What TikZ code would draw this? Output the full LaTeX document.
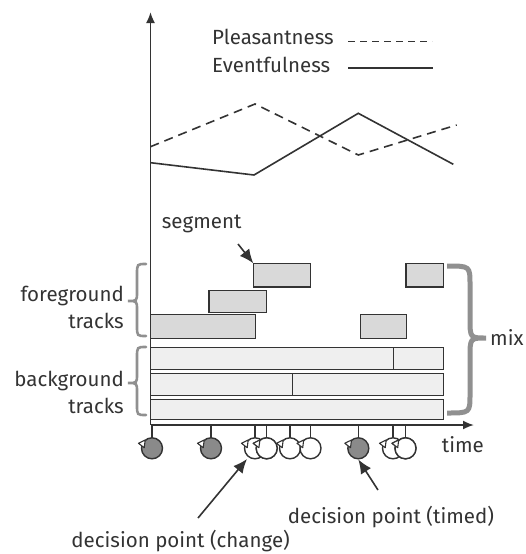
\documentclass[tikz,border=0pt]{standalone}
\usepackage{fontspec}
\setmainfont{Fira Sans}
\usetikzlibrary{arrows.meta}
\definecolor{ink}{HTML}{333333}
\definecolor{fgfill}{HTML}{D9D9D9}
\definecolor{bgfill}{HTML}{EFEFEF}
\definecolor{dpfill}{HTML}{8A8A8A}
\definecolor{bracegray}{HTML}{909090}
\tikzset{
  lbl/.style={inner sep=0pt, font=\fontsize{20.5}{24}\selectfont, text=ink},
  axisline/.style={draw=ink, line width=1.8pt, -{Latex[length=11pt,width=9pt]}},
  segbox/.style={draw=ink, line width=1.3pt, fill=fgfill, inner sep=0pt, outer sep=0pt, anchor=north west},
  trackbox/.style={draw=ink, line width=1.3pt, fill=bgfill, inner sep=0pt, outer sep=0pt, anchor=north west},
  curve/.style={draw=ink, line width=1.6pt},
  dashedcurve/.style={curve, dash pattern=on 9pt off 6pt},
  dpfilled/.style={circle, draw=ink, line width=1.4pt, fill=dpfill, minimum size=21pt, inner sep=0pt},
  dpopen/.style={circle, draw=ink, line width=1.4pt, fill=white, minimum size=21pt, inner sep=0pt},
  tri/.style={draw=ink, line width=1.1pt, fill=white, line join=round},
  tickline/.style={draw=ink, line width=1.3pt},
  pointer/.style={draw=ink, line width=1.6pt, -{Latex[length=14pt,width=12pt]}},
  lbrace/.style={draw=bracegray, line width=2.6pt, line cap=round},
  rbrace/.style={draw=bracegray, line width=5pt},
}
\newcommand{\dptri}[1]{\draw[tri] ([shift={(-13.5,-5)}]#1.center) -- ([shift={(-6.8,-8.3)}]#1.center) -- ([shift={(-7.8,-0.6)}]#1.center) -- cycle;}
\begin{document}
\begin{tikzpicture}[x=1pt,y=-1pt]
\useasboundingbox (0,0) rectangle (525,554);

% axes
\coordinate (O) at (150.5,425);
\coordinate (Ytop) at (150.5,12);
\coordinate (Xend) at (474,425);
\draw[axisline] (O) -- (Ytop);
\draw[axisline] (O) -- (Xend);

% legend
\node[lbl, anchor=base west] (pl) at (212,44) {Pleasantness};
\node[lbl, anchor=base west] (ev) at (212,72) {Eventfulness};
\coordinate (pl1) at (348,41.5); \coordinate (pl2) at (432,41.5);
\coordinate (ev1) at (348,68); \coordinate (ev2) at (433,68);
\draw[dashedcurve, dash pattern=on 7pt off 5pt] (pl1) -- (pl2);
\draw[curve] (ev1) -- (ev2);

% curves
\coordinate (p0) at (150.5,146.7); \coordinate (p1) at (255,104);
\coordinate (p2) at (358.3,155); \coordinate (p3) at (456.7,125);
\coordinate (e0) at (150.5,162.7); \coordinate (e1) at (254,175);
\coordinate (e2) at (358.3,113.3); \coordinate (e3) at (453.3,164.3);
\draw[dashedcurve] (p0) -- (p1) -- (p2) -- (p3);
\draw[curve, line join=miter] (e0) -- (e1) -- (e2) -- (e3);

% foreground segments
\node[segbox, minimum width=57.4pt, minimum height=23.7pt] (s1) at (253.3,263.3) {};
\node[segbox, minimum width=37.3pt, minimum height=23.7pt] (s2) at (406,263.3) {};
\node[segbox, minimum width=57.7pt, minimum height=22pt] (s3) at (209,290.7) {};
\node[segbox, minimum width=104.6pt, minimum height=24pt] (s4) at (150.7,314.7) {};
\node[segbox, minimum width=46.4pt, minimum height=24pt] (s5) at (360.3,314.7) {};

% background tracks
\node[trackbox, minimum width=292.6pt, minimum height=22pt] (t1) at (150.7,347.7) {};
\node[trackbox, minimum width=292.6pt, minimum height=21.6pt] (t2) at (150.7,373.7) {};
\node[trackbox, minimum width=292.6pt, minimum height=20pt] (t3) at (150.7,399.3) {};
\draw[tickline] ([xshift=242.6pt]t1.north west) -- ([xshift=242.6pt]t1.south west);
\draw[tickline] ([xshift=141.6pt]t2.north west) -- ([xshift=141.6pt]t2.south west);

% segment label
\node[lbl, anchor=base west] (seglbl) at (161.7,228.3) {segment};
\coordinate (segtail) at (238,244);
\draw[pointer] (segtail) -- (s1.north west);

% left braces and labels
\draw[lbrace] (146,264) .. controls (137,264) .. (137,274) -- (137,292)
  .. controls (137,301) .. (128,301) .. controls (137,301) .. (137,310)
  -- (137,326) .. controls (137,336) .. (146,336);
\draw[lbrace] (146,347) .. controls (137,347) .. (137,357) -- (137,374)
  .. controls (137,383) .. (128,383) .. controls (137,383) .. (137,392)
  -- (137,405) .. controls (137,415) .. (146,415);
\node[lbl, anchor=base east] (fg1) at (124,301) {foreground};
\node[lbl, anchor=base east] (fg2) at (124,328) {tracks};
\node[lbl, anchor=base east] (bg1) at (124,386.7) {background};
\node[lbl, anchor=base east] (bg2) at (124,413.3) {tracks};

% right brace and mix
\draw[rbrace] (447,266) .. controls (470,266) .. (470,285) -- (470,318)
  .. controls (470,338) .. (486,338) .. controls (470,338) .. (470,358)
  -- (470,394) .. controls (470,413) .. (447,413);
\node[lbl, anchor=base west] (mix) at (490,345) {mix};

% time label
\node[lbl, anchor=base west] (time) at (441.7,452.7) {time};

% decision points
\node[dpfilled] (d1) at (152,448.3) {};
\node[dpfilled] (d2) at (211,448.3) {};
\node[dpopen] (d3) at (255,448.3) {};
\node[dpopen] (d4) at (266.7,448.3) {};
\node[dpopen] (d5) at (290,448.3) {};
\node[dpopen] (d6) at (310.5,448.3) {};
\node[dpfilled] (d7) at (358.3,448.3) {};
\node[dpopen] (d8) at (393,448.3) {};
\node[dpopen] (d9) at (405.5,448.3) {};
\foreach \d in {d1,d2,d3,d4,d5,d6,d7,d8,d9}{
  \draw[tickline] (\d.north |- O) -- (\d.north);
}
\dptri{d1}\dptri{d2}\dptri{d3}\dptri{d4}\dptri{d5}\dptri{d6}\dptri{d7}\dptri{d8}\dptri{d9}
% redraw circles overlapped by the next triangle
\node[dpopen] at (d4) {};
\dptri{d4}
\node[dpopen] at (d9) {};
\dptri{d9}

% decision labels
\node[lbl, anchor=base west] (timed) at (287.7,523) {decision point (timed)};
\node[lbl, anchor=base east] (change) at (290,547.5) {decision point (change)};
\coordinate (chtail) at (198,518);
\coordinate (titail) at (378,490);
\draw[pointer] (chtail) -- (247,459);
\draw[pointer] (titail) -- (d7.south);
\end{tikzpicture}
\end{document}
